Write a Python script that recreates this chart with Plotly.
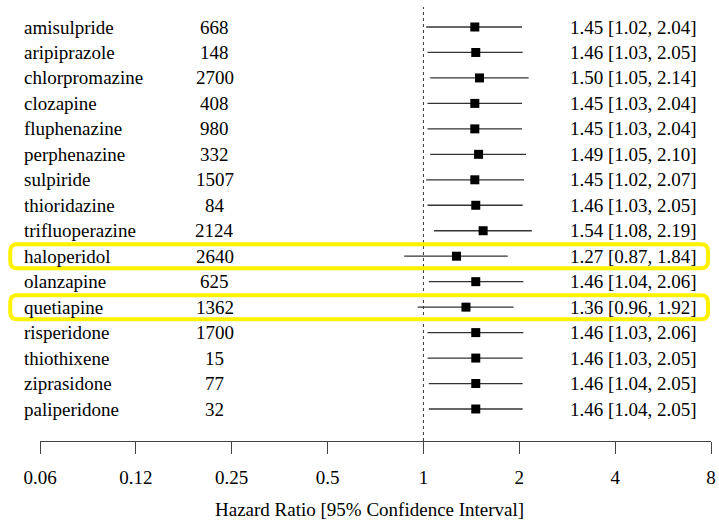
import numpy as np
import plotly.graph_objects as go

drugs = ["amisulpride", "aripiprazole", "chlorpromazine", "clozapine", "fluphenazine",
         "perphenazine", "sulpiride", "thioridazine", "trifluoperazine", "haloperidol",
         "olanzapine", "quetiapine", "risperidone", "thiothixene", "ziprasidone", "paliperidone"]
counts = [668, 148, 2700, 408, 980, 332, 1507, 84, 2124, 2640, 625, 1362, 1700, 15, 77, 32]
hr = [1.45, 1.46, 1.50, 1.45, 1.45, 1.49, 1.45, 1.46, 1.54, 1.27, 1.46, 1.36, 1.46, 1.46, 1.46, 1.46]
ci_lo = [1.02, 1.03, 1.05, 1.03, 1.03, 1.05, 1.02, 1.03, 1.08, 0.87, 1.04, 0.96, 1.03, 1.03, 1.04, 1.04]
ci_hi = [2.04, 2.05, 2.14, 2.04, 2.04, 2.10, 2.07, 2.05, 2.19, 1.84, 2.06, 1.92, 2.06, 2.05, 2.05, 2.05]
highlighted = ["haloperidol", "quetiapine"]
tick_vals = [0.0625, 0.125, 0.25, 0.5, 1, 2, 4, 8]
tick_text = ["0.06", "0.12", "0.25", "0.5", "1", "2", "4", "8"]
ref_value = 1
x_title = "Hazard Ratio [95% Confidence Interval]"

n = len(drugs)
ypos = [n - i for i in range(n)]  # top row = n

FONT = "Liberation Serif"
FS = 19

W, H = 719, 521
ml, mr, mt, mb = 40, 3, 7, 80
plot_w = W - ml - mr
row_px = (409 - 27) / 15.0
y_top = n + 20 / row_px
y_bot = 1 - 32 / row_px

def px_to_paper_x(px):
    return (px - ml) / plot_w

fig = go.Figure()

# reference line (dotted) at HR = 1
fig.add_trace(go.Scatter(
    x=[ref_value, ref_value], y=[y_bot, y_top], mode="lines",
    line=dict(color="#333333", width=1, dash="dot"), showlegend=False, hoverinfo="skip"))

# CI lines
for i in range(n):
    fig.add_trace(go.Scatter(
        x=[ci_lo[i], ci_hi[i]], y=[ypos[i], ypos[i]], mode="lines",
        line=dict(color="#333333", width=1.3), showlegend=False, hoverinfo="skip"))

# point estimates
fig.add_trace(go.Scatter(
    x=hr, y=ypos, mode="markers",
    marker=dict(symbol="square", size=9, color="black", line=dict(width=0)),
    showlegend=False))

# text columns
for i in range(n):
    fig.add_annotation(x=px_to_paper_x(21.5), y=ypos[i], xref="paper", yref="y",
                       text=drugs[i], showarrow=False, xanchor="left", yanchor="middle",
                       font=dict(family=FONT, size=FS, color="black"))
    fig.add_annotation(x=px_to_paper_x(216), y=ypos[i], xref="paper", yref="y",
                       text=str(counts[i]), showarrow=False, xanchor="center", yanchor="middle",
                       font=dict(family=FONT, size=FS, color="black"))
    fig.add_annotation(x=px_to_paper_x(704), y=ypos[i], xref="paper", yref="y",
                       text=f"{hr[i]:.2f} [{ci_lo[i]:.2f}, {ci_hi[i]:.2f}]", showarrow=False,
                       xanchor="right", yanchor="middle",
                       font=dict(family=FONT, size=FS, color="black"))

# highlight boxes (rounded)
x0p, x1p = px_to_paper_x(10), px_to_paper_x(713)
rx = 7 / plot_w
ry = 7 / row_px
hh = 12 / row_px
for name in highlighted:
    yc = ypos[drugs.index(name)]
    y0, y1 = yc - hh, yc + hh
    path = (f"M {x0p + rx},{y1} L {x1p - rx},{y1} Q {x1p},{y1} {x1p},{y1 - ry} "
            f"L {x1p},{y0 + ry} Q {x1p},{y0} {x1p - rx},{y0} "
            f"L {x0p + rx},{y0} Q {x0p},{y0} {x0p},{y0 + ry} "
            f"L {x0p},{y1 - ry} Q {x0p},{y1} {x0p + rx},{y1} Z")
    fig.add_shape(type="path", path=path, xref="paper", yref="y",
                  line=dict(color="#FFF200", width=4), fillcolor="rgba(0,0,0,0)")

# x title
fig.add_annotation(x=px_to_paper_x(372), y=-(510 - (H - mb)) / (H - mt - mb),
                   xref="paper", yref="paper", text=x_title, showarrow=False,
                   xanchor="center", yanchor="middle",
                   font=dict(family=FONT, size=FS, color="black"))

fig.update_xaxes(type="log", range=[np.log10(tick_vals[0]), np.log10(tick_vals[-1])],
                 tickvals=tick_vals, ticktext=tick_text, ticks="outside", ticklen=12,
                 tickwidth=1, tickcolor="#444444", showline=True, linecolor="#444444",
                 linewidth=1, showgrid=False, zeroline=False, ticklabelstandoff=7,
                 ticklabeloverflow="allow",
                 tickfont=dict(family=FONT, size=FS, color="black"))
fig.update_yaxes(range=[y_bot, y_top], visible=False, showgrid=False, zeroline=False)

fig.update_layout(width=W, height=H, autosize=False,
                  margin=dict(l=ml, r=mr, t=mt, b=mb),
                  paper_bgcolor="white", plot_bgcolor="white",
                  font=dict(family=FONT, size=FS, color="black"))

fig.write_html("out.html", config={"displayModeBar": False})

with open("out.html", "r", encoding="utf-8") as f:
    html = f.read()
html = html.replace("<head>", "<head><style>html,body{margin:0;padding:0;overflow:hidden;}</style>", 1)
with open("out.html", "w", encoding="utf-8") as f:
    f.write(html)
